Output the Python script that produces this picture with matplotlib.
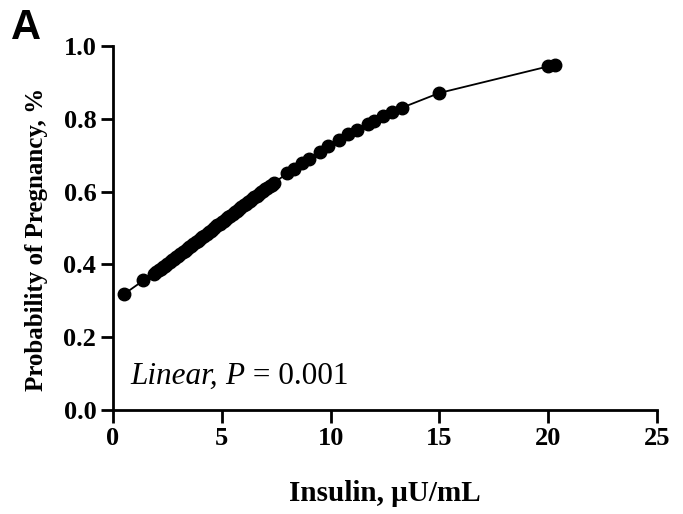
import matplotlib
matplotlib.use("Agg")
import matplotlib.pyplot as plt

# Insulin concentration (µU/mL) and fitted probability of pregnancy
insulin = [0.5, 1.4, 1.9, 2.0, 2.1, 2.2, 2.3, 2.4, 2.5, 2.6, 2.7, 2.8, 2.9,
           3.0, 3.1, 3.2, 3.3, 3.4, 3.5, 3.6, 3.7, 3.8, 3.9, 4.0, 4.1, 4.2,
           4.3, 4.4, 4.5, 4.6, 4.7, 4.8, 4.9, 5.0, 5.1, 5.2, 5.3, 5.4, 5.5,
           5.6, 5.7, 5.8, 5.9, 6.0, 6.1, 6.2, 6.3, 6.4, 6.5, 6.6, 6.7, 6.8,
           6.9, 7.0, 7.1, 7.2, 7.3, 7.4, 8.0, 8.3, 8.7, 9.0, 9.5, 9.9, 10.4,
           10.8, 11.2, 11.7, 12.0, 12.4, 12.8, 13.3, 15.0, 20.0, 20.3]
probability = [0.318, 0.356, 0.375, 0.380, 0.384, 0.388, 0.393, 0.397, 0.402,
               0.406, 0.411, 0.415, 0.420, 0.424, 0.429, 0.433, 0.438, 0.442,
               0.447, 0.451, 0.456, 0.461, 0.465, 0.470, 0.474, 0.479, 0.484,
               0.488, 0.493, 0.497, 0.502, 0.507, 0.511, 0.516, 0.520, 0.525,
               0.530, 0.534, 0.539, 0.543, 0.548, 0.553, 0.557, 0.562, 0.566,
               0.571, 0.575, 0.580, 0.584, 0.589, 0.593, 0.598, 0.602, 0.606,
               0.611, 0.615, 0.619, 0.624, 0.650, 0.662, 0.678, 0.690, 0.710,
               0.725, 0.743, 0.757, 0.770, 0.786, 0.795, 0.807, 0.818, 0.831,
               0.871, 0.944, 0.947]

x_ticks = [0, 5, 10, 15, 20, 25]
y_ticks = [0.0, 0.2, 0.4, 0.6, 0.8, 1.0]

serif = ["Liberation Serif", "DejaVu Serif"]
sans = ["Liberation Sans", "DejaVu Sans"]

fig = plt.figure(figsize=(6.83, 5.14), dpi=100)
ax = fig.add_axes([0.1654, 0.2023, 0.962 - 0.1654, 0.9105 - 0.2023])

ax.plot(insulin, probability, color="black", linewidth=1.3, marker="o",
        markersize=9, markerfacecolor="black", markeredgecolor="black",
        clip_on=False, zorder=3)

ax.set_xlim(0, 25)
ax.set_ylim(0, 1.0)
ax.set_xticks(x_ticks)
ax.set_yticks(y_ticks)
ax.set_xticklabels([str(t) for t in x_ticks])
ax.set_yticklabels([f"{t:.1f}" for t in y_ticks])

for side in ("top", "right"):
    ax.spines[side].set_visible(False)
for side in ("left", "bottom"):
    ax.spines[side].set_linewidth(2.0)

ax.tick_params(axis="both", direction="out", length=9, width=2.0, pad=3)
for lbl in ax.get_xticklabels() + ax.get_yticklabels():
    lbl.set_family(serif)
    lbl.set_fontweight("bold")
    lbl.set_fontsize(19)

ax.set_xlabel("Insulin, μU/mL", family=serif, fontweight="bold",
              fontsize=21, labelpad=22)
ax.set_ylabel("Probability of Pregnancy, %", family=serif, fontweight="bold",
              fontsize=18)
ax.yaxis.set_label_coords(-0.12, 0.47)

# Test annotation: italic "Linear," and "P", upright "= 0.001"
parts = [("Linear, ", "italic"), ("P", "italic"), (" = 0.001", "normal")]
prev = ax.text(0.78, 0.072, parts[0][0], family=serif, style=parts[0][1],
               fontsize=22.5, ha="left", va="baseline")
for txt, st in parts[1:]:
    prev = ax.annotate(txt, xy=(1, 0), xycoords=prev, family=serif, style=st,
                       fontsize=22.5, ha="left", va="bottom")

fig.text(0.016, 0.925, "A", family=sans, fontweight="bold", fontsize=30,
         ha="left", va="baseline")

fig.savefig("out.png", dpi=100)
